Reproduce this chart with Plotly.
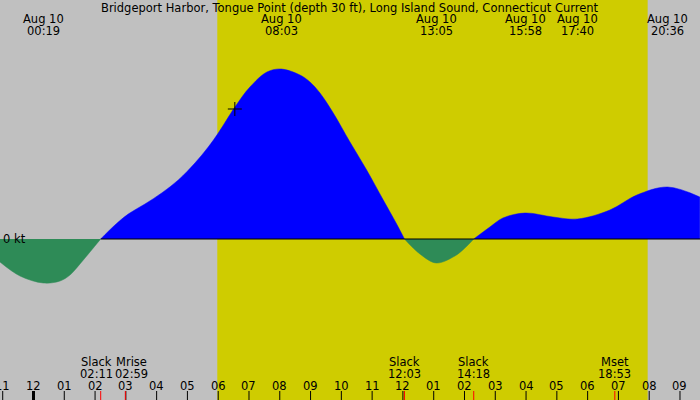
import plotly.graph_objects as go

# ---------------- data ----------------
title_text = "Bridgeport Harbor, Tongue Point (depth 30 ft), Long Island Sound, Connecticut Current"

# hours relative to Aug 10 00:00, current in knots (flood +, ebb -)
curve_hours = [-1.088, -0.438, 0.317, 0.861, 1.185, 1.510, 1.835, 2.183, 2.647, 3.079,
               3.621, 4.164, 4.703, 5.245, 5.677, 6.002, 6.544, 7.031, 7.584, 8.05,
               8.655, 8.980, 9.305, 9.737, 10.279, 10.822, 11.361, 11.796, 12.05, 12.553,
               13.083, 13.689, 14.014, 14.3, 14.825, 15.248, 15.967, 16.872, 17.667, 18.724,
               19.601, 20.6, 21.646]
curve_kt = [-0.23, -0.37, -0.44, -0.42, -0.36, -0.25, -0.13, 0.0, 0.14, 0.25,
            0.35, 0.46, 0.59, 0.76, 0.92, 1.06, 1.32, 1.52, 1.67, 1.70,
            1.64, 1.57, 1.46, 1.26, 0.97, 0.69, 0.39, 0.15, 0.0, -0.15,
            -0.24, -0.17, -0.09, 0.0, 0.12, 0.21, 0.26, 0.22, 0.20, 0.29,
            0.44, 0.52, 0.42]

sunrise_h = 5.97
sunset_h = 19.95

# max / min current events (top labels)
peak_hours = [0.317, 8.05, 13.083, 15.967, 17.667, 20.6]
peak_dates = ["Aug 10"] * 6
peak_times = ["00:19", "08:03", "13:05", "15:58", "17:40", "20:36"]

# bottom events
event_hours = [2.183, 2.983, 12.05, 14.3, 18.883]
event_names = ["Slack", "Mrise", "Slack", "Slack", "Mset"]
event_times = ["02:11", "02:59", "12:03", "14:18", "18:53"]

# hour ticks
tick_hours = list(range(-1, 22))
tick_labels = ["11", "12", "01", "02", "03", "04", "05", "06", "07", "08", "09", "10",
               "11", "12", "01", "02", "03", "04", "05", "06", "07", "08", "09"]

now_h = 6.54
now_kt = 1.30

# ---------------- style ----------------
X_RANGE = [-1.088, 21.65]
Y_RANGE = [-1.61, 2.39]
W, H = 700, 400
GRAY = "#c0c0c0"
YELLOW = "#cfcc00"
FLOOD = "#0000ff"
EBB = "#2e8b57"
FONT = "DejaVu Sans"
FS = 11.5
label_xshift = [-4, 6, 0, 0, 0]


def py(pix):
    return 1 - pix / H


def txt(text, x, xref, y, yref, xanchor="center", xshift=0):
    return dict(text=text, x=x, xref=xref, y=y, yref=yref, showarrow=False, xshift=xshift,
                xanchor=xanchor, yanchor="middle", font=dict(family=FONT, size=FS, color="black"))


fig = go.Figure()

# split the curve into flood / ebb segments at the slack points
zero_idx = [i for i, v in enumerate(curve_kt) if v == 0]
bounds = [0] + zero_idx + [len(curve_kt) - 1]
for a, b in zip(bounds[:-1], bounds[1:]):
    xs = curve_hours[a:b + 1]
    ys = curve_kt[a:b + 1]
    col = FLOOD if sum(ys) > 0 else EBB
    fig.add_trace(go.Scatter(x=xs, y=ys, mode="lines",
                             line=dict(shape="spline", smoothing=1.0, color=col, width=0.5),
                             fill="tozeroy", fillcolor=col, hoverinfo="skip", showlegend=False))

# zero line from first slack onward
fig.add_trace(go.Scatter(x=[event_hours[0], X_RANGE[1]], y=[0, 0], mode="lines",
                         line=dict(color="black", width=1.2), hoverinfo="skip", showlegend=False))

# current-time marker
fig.add_trace(go.Scatter(x=[now_h], y=[now_kt], mode="markers",
                         marker=dict(symbol="cross-thin", size=10, line=dict(color="black", width=1)),
                         hoverinfo="skip", showlegend=False))

shapes = [dict(type="rect", xref="x", yref="paper", x0=sunrise_h, x1=sunset_h, y0=0, y1=1,
               fillcolor=YELLOW, line=dict(width=0), layer="below")]

# hour ticks
for h in tick_hours:
    shapes.append(dict(type="line", xref="x", yref="paper", x0=h, x1=h, y0=0, y1=9 / H,
                       line=dict(color="black", width=3 if h % 24 == 0 else 1)))
# event ticks
for h in event_hours:
    shapes.append(dict(type="line", xref="x", yref="paper", x0=h, x1=h, y0=0, y1=9 / H,
                       line=dict(color="red", width=1)))

ann = [txt(title_text, 0.5, "paper", py(7.5), "paper")]
for h, d, t in zip(peak_hours, peak_dates, peak_times):
    ann.append(txt(d, h, "x", py(19.5), "paper"))
    ann.append(txt(t, h, "x", py(31.5), "paper"))
for h, n, t, s in zip(event_hours, event_names, event_times, label_xshift):
    ann.append(txt(n, h, "x", py(361.5), "paper", xshift=s))
    ann.append(txt(t, h, "x", py(373.5), "paper", xshift=s))
for h, lab in zip(tick_hours, tick_labels):
    ann.append(txt(lab, h, "x", py(385.5), "paper"))
ann.append(txt("0 kt", 0, "paper", 0, "y", xanchor="left", xshift=1))

fig.update_layout(
    width=W, height=H, margin=dict(l=0, r=0, t=0, b=0),
    paper_bgcolor=GRAY, plot_bgcolor=GRAY,
    xaxis=dict(range=X_RANGE, visible=False, fixedrange=True),
    yaxis=dict(range=Y_RANGE, visible=False, fixedrange=True),
    shapes=shapes, annotations=ann, showlegend=False,
)

fig.write_html("out.html", config={"displayModeBar": False},
               post_script="document.body.style.margin='0';document.body.style.overflow='hidden';")
